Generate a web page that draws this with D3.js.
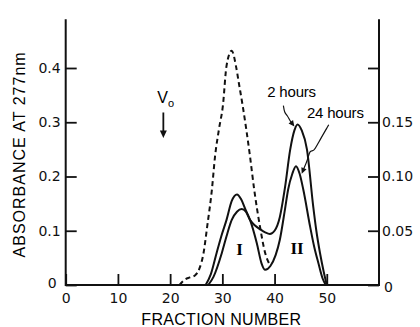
<!DOCTYPE html>
<html>
<head>
<meta charset="utf-8">
<script src="https://cdn.jsdelivr.net/npm/d3@7"></script>
<style>
  body { margin: 0; background: #fff; }
  svg { display: block; }
  .tick text { font-family: "DejaVu Sans", sans-serif; font-size: 14px; fill: #111; }
</style>
</head>
<body>
<div class="box"></div>
<script>
const width = 420
const height = 327

// fraction numbers and absorbances
const voidX = [21.8, 22.8, 23.8, 24.8, 25.6, 26.4, 27.1, 28.0, 28.6, 29.4, 30.1, 30.8, 31.8, 32.6, 33.2, 33.9, 35.3, 36.1, 37.2, 38.2, 39.1]
const voidY = [0, 0.010, 0.014, 0.018, 0.030, 0.059, 0.108, 0.176, 0.237, 0.290, 0.330, 0.404, 0.432, 0.404, 0.370, 0.330, 0.237, 0.176, 0.108, 0.059, 0.037]

const h24X = [26.8, 27.8, 28.9, 29.8, 30.8, 31.8, 32.8, 33.6, 34.4, 35.3, 36.6, 37.5, 38.2, 39.2, 40.2, 41.0, 42.0, 42.6, 43.4, 44.1, 44.8, 45.5, 46.8, 47.6, 48.4, 49.2, 49.8]
const h24Y = [0, 0.020, 0.059, 0.090, 0.120, 0.155, 0.167, 0.158, 0.140, 0.120, 0.077, 0.040, 0.028, 0.035, 0.055, 0.083, 0.140, 0.176, 0.205, 0.219, 0.205, 0.176, 0.108, 0.070, 0.040, 0.012, 0]

const h2X = [27.3, 28.3, 29.9, 30.8, 31.8, 32.8, 33.7, 34.5, 35.3, 36.2, 37.2, 38.2, 39.1, 40.0, 41.0, 42.0, 43.0, 43.8, 44.4, 45.2, 46.2, 47.4, 48.0, 48.7, 49.4, 50.0]
const h2Y = [0, 0.015, 0.059, 0.090, 0.120, 0.135, 0.140, 0.135, 0.120, 0.110, 0.103, 0.097, 0.094, 0.100, 0.125, 0.180, 0.250, 0.285, 0.296, 0.285, 0.250, 0.145, 0.100, 0.059, 0.025, 0]

const xTicks = [0, 10, 20, 30, 40, 50]
const yTicks = [0, 0.1, 0.2, 0.3, 0.4]
const yRightTicks = [0, 0.05, 0.10, 0.15, 0.20]
const yRightLabels = ["0", "0.05", "0.10", "0.15", ""]

const voidVolume = 18.7

const x = d3.scaleLinear().domain([0, 60]).range([65.7, 379])
const y = d3.scaleLinear().domain([0, 0.49]).range([285, 285 - 0.49 * 542.5])
const yR = d3.scaleLinear().domain([0, 0.245]).range([285, 285 - 0.49 * 542.5])

const svg = d3.select('.box')
              .append('svg')
              .attr('width', width)
              .attr('height', height)

// frame
svg.append('path')
   .attr('d', `M${x(0)},${y(0.49)}V${y(0)}H${x(60)}V${y(0.49)}`)
   .attr('fill', 'none')
   .attr('stroke', '#111')
   .attr('stroke-width', 2)

const xAxis = svg.append('g')
   .attr('transform', `translate(0,${y(0)})`)
   .call(d3.axisBottom(x).tickValues(xTicks).tickSize(-11).tickPadding(4).tickFormat(d3.format('d')))
xAxis.select('.domain').remove()
xAxis.selectAll('.tick text').attr('dy', '1.0em')

const yAxis = svg.append('g')
   .attr('transform', `translate(${x(0)},0)`)
   .call(d3.axisLeft(y).tickValues(yTicks).tickSize(-11).tickPadding(5).tickFormat(d => d === 0 ? '0' : d3.format('.1f')(d)))
yAxis.select('.domain').remove()
yAxis.selectAll('.tick text').filter(d => d === 0).attr('dx', -4).attr('dy', '0.2em')

const yAxisR = svg.append('g')
   .attr('transform', `translate(${x(60)},0)`)
   .call(d3.axisRight(yR).tickValues(yRightTicks).tickSize(-11).tickPadding(3).tickFormat((d, i) => yRightLabels[i]))
yAxisR.select('.domain').remove()
yAxisR.selectAll('.tick text').filter(d => d === 0).attr('dx', 2).attr('dy', '0.45em')

svg.selectAll('.tick line').attr('stroke', '#111').attr('stroke-width', 1.8)

// axis titles
svg.append('text')
   .attr('transform', `translate(25,${y(0.25) + 5}) rotate(-90)`)
   .attr('text-anchor', 'middle')
   .style('font-family', '"Liberation Sans", Arial, sans-serif')
   .style('font-size', '16px')
   .style('letter-spacing', '1px')
   .text('ABSORBANCE  AT 277nm')

svg.append('text')
   .attr('x', x(30) - 1)
   .attr('y', 325)
   .attr('text-anchor', 'middle')
   .style('font-family', '"Liberation Sans", Arial, sans-serif')
   .style('font-size', '16px')
   .style('letter-spacing', '0.3px')
   .text('FRACTION NUMBER')

// curves
const line = d3.line().x(d => x(d[0])).y(d => y(d[1])).curve(d3.curveMonotoneX)

const series = [
    { xs: voidX, ys: voidY, dash: '5,3.5' },
    { xs: h24X, ys: h24Y, dash: null },
    { xs: h2X, ys: h2Y, dash: null }
]

svg.selectAll('path.curve')
   .data(series).enter()
   .append('path')
   .attr('class', 'curve')
   .attr('d', s => line(d3.zip(s.xs, s.ys)))
   .attr('fill', 'none')
   .attr('stroke', '#111')
   .attr('stroke-width', 2)
   .attr('stroke-dasharray', s => s.dash)

// peak labels
svg.append('text')
   .attr('x', x(33.3)).attr('y', y(0.055))
   .attr('text-anchor', 'middle')
   .style('font-family', '"Liberation Serif", serif')
   .style('font-size', '17px').style('font-weight', 'bold')
   .text('I')
svg.append('text')
   .attr('x', x(44.3)).attr('y', y(0.058))
   .attr('text-anchor', 'middle')
   .style('font-family', '"Liberation Serif", serif')
   .style('font-size', '17px').style('font-weight', 'bold')
   .text('II')

// void volume marker
svg.append('text')
   .attr('x', x(voidVolume) - 6).attr('y', y(0.335))
   .style('font-family', '"Liberation Sans", Arial, sans-serif')
   .style('font-size', '16px')
   .text('V')
   .append('tspan')
   .attr('dy', 4)
   .style('font-size', '11px')
   .text('o')

svg.append('line')
   .attr('x1', x(voidVolume)).attr('x2', x(voidVolume))
   .attr('y1', y(0.318)).attr('y2', y(0.283))
   .attr('stroke', '#111').attr('stroke-width', 1.8)
svg.append('path')
   .attr('d', `M${x(voidVolume) - 3.5},${y(0.285)}L${x(voidVolume) + 3.5},${y(0.285)}L${x(voidVolume)},${y(0.28) + 5}Z`)
   .attr('fill', '#111')

// time labels with wavy leaders
const label = (txt, lx, ly) => svg.append('text')
   .attr('x', lx).attr('y', ly)
   .style('font-family', '"Liberation Sans", Arial, sans-serif')
   .style('font-size', '15px')
   .style('letter-spacing', '-0.2px')
   .text(txt)

label('2 hours', x(38.6), y(0.346))
label('24 hours', x(46.2), y(0.308))

function leader(pts, tip) {
    svg.append('path')
       .attr('d', d3.line().curve(d3.curveBasis)(pts))
       .attr('fill', 'none').attr('stroke', '#111').attr('stroke-width', 1.2)
    const a = pts[pts.length - 1], b = tip
    const ang = Math.atan2(b[1] - a[1], b[0] - a[0])
    const l = 6, w = 2.8
    const p1 = [b[0] - l * Math.cos(ang) + w * Math.sin(ang), b[1] - l * Math.sin(ang) - w * Math.cos(ang)]
    const p2 = [b[0] - l * Math.cos(ang) - w * Math.sin(ang), b[1] - l * Math.sin(ang) + w * Math.cos(ang)]
    svg.append('path').attr('d', `M${b}L${p1}L${p2}Z`).attr('fill', '#111')
}

const tip2 = [x(43.8), y(0.292)]
leader([[tip2[0] - 11, tip2[1] - 21], [tip2[0] - 10, tip2[1] - 14], [tip2[0] - 7, tip2[1] - 11], [tip2[0] - 5, tip2[1] - 7], [tip2[0] - 3, tip2[1] - 4]], tip2)

const tip24 = [x(45.2), y(0.205)]
leader([[tip24[0] + 27, tip24[1] - 49], [tip24[0] + 16, tip24[1] - 30], [tip24[0] + 12, tip24[1] - 22], [tip24[0] + 8, tip24[1] - 24], [tip24[0] + 6, tip24[1] - 14], [tip24[0] + 2, tip24[1] - 5]], tip24)
</script>
</body>
</html>
